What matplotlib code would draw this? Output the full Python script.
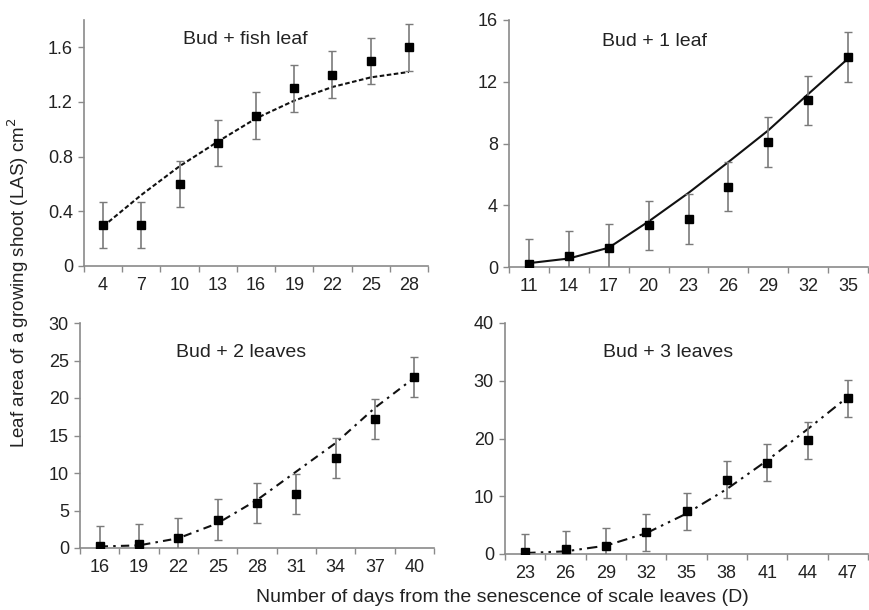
import matplotlib.pyplot as plt

plt.rcParams['font.family'] = ['Liberation Sans', 'DejaVu Sans']

W, H = 869, 610

# data
days_fish = [4, 7, 10, 13, 16, 19, 22, 25, 28]
las_fish = [0.3, 0.3, 0.6, 0.9, 1.1, 1.3, 1.4, 1.5, 1.6]
err_fish = [0.17] * 9
fit_fish = [0.29, 0.52, 0.73, 0.91, 1.08, 1.21, 1.31, 1.38, 1.42]

days_1 = [11, 14, 17, 20, 23, 26, 29, 32, 35]
las_1 = [0.2, 0.7, 1.2, 2.7, 3.1, 5.2, 8.1, 10.8, 13.6]
err_1 = [1.6] * 9
fit_1 = [0.25, 0.55, 1.25, 2.95, 4.8, 6.8, 8.85, 11.2, 13.5]

days_2 = [16, 19, 22, 25, 28, 31, 34, 37, 40]
las_2 = [0.3, 0.5, 1.3, 3.8, 6.0, 7.2, 12.0, 17.2, 22.8]
err_2 = [2.7] * 9
fit_2 = [0.2, 0.35, 1.3, 3.3, 6.4, 10.2, 14.0, 18.7, 22.7]

days_3 = [23, 26, 29, 32, 35, 38, 41, 44, 47]
las_3 = [0.3, 0.8, 1.3, 3.8, 7.4, 12.9, 15.8, 19.7, 27.0]
err_3 = [3.2] * 9
fit_3 = [0.17, 0.46, 1.44, 3.6, 7.0, 11.25, 16.2, 21.6, 27.2]

panels = [
    # box = (left, right, top, bottom) in pixels
    dict(box=(84, 428, 20, 266), ymax=1.8, yticks=[0, 0.4, 0.8, 1.2, 1.6],
         ylabels=['0', '0.4', '0.8', '1.2', '1.6'],
         days=days_fish, las=las_fish, err=err_fish, fit=fit_fish,
         title='Bud + fish leaf', tpos=(0.468, 0.919), ls=(0, (2.2, 1.2))),
    dict(box=(509, 868, 20, 267), ymax=16, yticks=[0, 4, 8, 12, 16],
         ylabels=['0', '4', '8', '12', '16'],
         days=days_1, las=las_1, err=err_1, fit=fit_1,
         title='Bud + 1 leaf', tpos=(0.406, 0.911), ls='-'),
    dict(box=(80, 434, 323, 548), ymax=30, yticks=[0, 5, 10, 15, 20, 25, 30],
         ylabels=['0', '5', '10', '15', '20', '25', '30'],
         days=days_2, las=las_2, err=err_2, fit=fit_2,
         title='Bud + 2 leaves', tpos=(0.455, 0.871), ls=(0, (4, 2.5, 1.2, 2.5))),
    dict(box=(505, 868, 323, 554), ymax=40, yticks=[0, 10, 20, 30, 40],
         ylabels=['0', '10', '20', '30', '40'],
         days=days_3, las=las_3, err=err_3, fit=fit_3,
         title='Bud + 3 leaves', tpos=(0.449, 0.874), ls=(0, (5, 2.5, 1.2, 2.5, 1.2, 2.5))),
]

fig = plt.figure(figsize=(W / 100, H / 100), dpi=100)
spine_col = '#8a8a8a'
txt_col = '#222222'

for p in panels:
    l, r, t, b = p['box']
    ax = fig.add_axes([l / W, 1 - b / H, (r - l) / W, (b - t) / H])
    x = list(range(len(p['days'])))
    ax.plot(x, p['fit'], color='#111111', lw=1.5, ls=p['ls'], zorder=2)
    ax.errorbar(x, p['las'], yerr=p['err'], fmt='none', ecolor='#7a7a7a',
                elinewidth=1.2, capsize=3, capthick=1.0, zorder=3)
    ax.plot(x, p['las'], 's', color='black', ms=6, zorder=4)
    ax.set_xlim(-0.5, len(x) - 0.5)
    ax.set_ylim(0, p['ymax'])
    ax.set_xticks(x)
    ax.set_xticklabels([str(d) for d in p['days']])
    ax.set_xticks([i - 0.5 for i in range(len(x) + 1)], minor=True)
    ax.set_yticks(p['yticks'])
    ax.set_yticklabels(p['ylabels'])
    ax.tick_params(axis='x', which='major', length=0, pad=8, labelsize=13, labelcolor=txt_col)
    ax.tick_params(axis='x', which='minor', length=4, width=1, color=spine_col, direction='out')
    ax.tick_params(axis='y', length=4, width=1, color=spine_col, direction='out',
                   labelsize=13, labelcolor=txt_col, pad=4)
    for s in ['top', 'right']:
        ax.spines[s].set_visible(False)
    for s in ['left', 'bottom']:
        ax.spines[s].set_color(spine_col)
        ax.spines[s].set_linewidth(1.2)
    ax.text(p['tpos'][0], p['tpos'][1], p['title'], transform=ax.transAxes,
            ha='center', va='center', fontsize=14, color=txt_col)

fig.text(18 / W, 1 - 283 / H, 'Leaf area of a growing shoot (LAS) cm$^2$', rotation=90,
         ha='center', va='center', fontsize=13.5, color=txt_col)
fig.text(502 / W, 1 - 597 / H, 'Number of days from the senescence of scale leaves (D)',
         ha='center', va='center', fontsize=14, color=txt_col)

fig.savefig('out.png', dpi=100)
